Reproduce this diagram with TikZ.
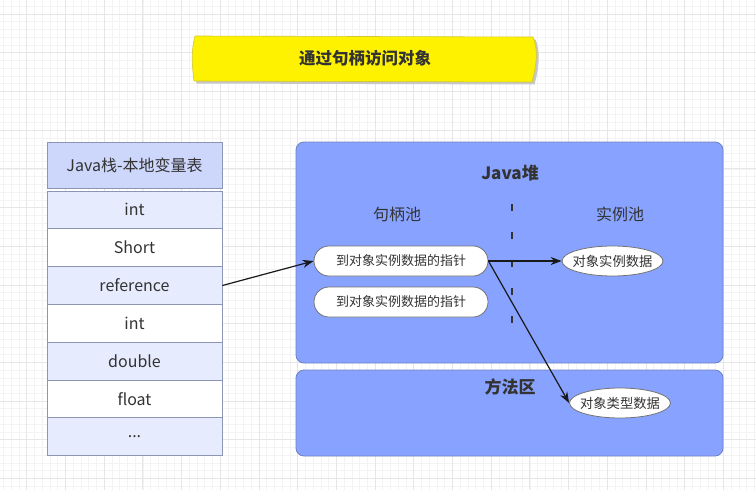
\documentclass[tikz,border=0pt]{standalone}
\usepackage{fontspec}
\setmainfont{Noto Sans CJK SC}
\usetikzlibrary{arrows.meta,shapes.geometric}
\definecolor{txt}{HTML}{333333}
\definecolor{heapfill}{HTML}{88A2FF}
\definecolor{heapdraw}{HTML}{6F82C4}
\definecolor{hdrfill}{HTML}{CDD6FB}
\definecolor{rowfill}{HTML}{E6EBFE}
\definecolor{rowdraw}{HTML}{8C96B4}
\definecolor{gridmaj}{HTML}{E6E6E6}
\definecolor{gridmin}{HTML}{F3F3F3}
\tikzset{
  cell/.style={draw=rowdraw, line width=0.8pt, minimum width=175pt, minimum height=37.8pt, inner sep=0pt, text=txt, font=\fontsize{16}{19}\selectfont},
  lav/.style={cell, fill=rowfill},
  wht/.style={cell, fill=white},
  hdr/.style={cell, fill=hdrfill, minimum height=46pt},
  region/.style={draw=heapdraw, line width=0.8pt, fill=heapfill, rounded corners=8pt, minimum width=427pt, inner sep=0pt},
  lbl/.style={text=txt, inner sep=0pt, font=\fontsize{16}{19}\selectfont},
  blbl/.style={text=txt, inner sep=0pt, font=\fontsize{16.5}{19}\selectfont\bfseries},
  pill/.style={draw=black!55, line width=0.8pt, fill=white, rounded corners=15pt, minimum width=174pt, minimum height=30pt, inner sep=0pt, text=txt, font=\fontsize{13}{15}\selectfont},
  oval/.style={ellipse, draw=black!55, line width=0.8pt, fill=white, minimum width=101pt, minimum height=30pt, inner xsep=-12pt, inner ysep=0pt, text=txt, font=\fontsize{13.3}{15}\selectfont},
  arr/.style={draw=black!90, line width=1.2pt, -{Stealth[length=11pt,width=8pt]}},
}
\begin{document}
\begin{tikzpicture}[x=1pt,y=-1pt]
\useasboundingbox (0,0) rectangle (756,490);
\fill[white] (0,0) rectangle (756,490);
\begin{scope}
\clip (0,0) rectangle (756,490);
\foreach \i in {0,...,100} {
  \draw[gridmin, line width=0.5pt] ({-12+\i*7.74},0) -- ({-12+\i*7.74},490);
  \draw[gridmin, line width=0.5pt] (0,{-24.7+\i*7.74}) -- (756,{-24.7+\i*7.74});
}
\foreach \i in {0,...,21} {
  \draw[gridmaj, line width=0.7pt] ({-12+\i*38.7},0) -- ({-12+\i*38.7},490);
  \draw[gridmaj, line width=0.7pt] (0,{-24.7+\i*38.7}) -- (756,{-24.7+\i*38.7});
}
\end{scope}
% title banner
\fill[black!22, shift={(2.5,2.5)}] (195,36) -- (533,37) .. controls (538,48) and (537,64) .. (532,82) -- (194,81) .. controls (192,66) and (191,50) .. (195,36) -- cycle;
\draw[fill=yellow, draw=yellow!80!black, line width=0.6pt] (195,36) -- (533,37) .. controls (538,48) and (537,64) .. (532,82) -- (194,81) .. controls (192,66) and (191,50) .. (195,36) -- cycle;
\node[blbl] (title) at (365,58) {通过句柄访问对象};
% stack table
\node[hdr] (hdr) at (134.5,165) {Java栈-本地变量表};
\node[lav] (r0) at (134.5,209.9) {int};
\node[wht] (r1) at (134.5,247.7) {Short};
\node[lav] (r2) at (134.5,285.5) {reference};
\node[wht] (r3) at (134.5,323.3) {int};
\node[lav] (r4) at (134.5,361.1) {double};
\node[wht] (r5) at (134.5,398.9) {float};
\node[lav] (r6) at (134.5,436.7) {...};
% heap
\node[region, minimum height=221pt] (heap) at (509.5,252.5) {};
\node[region, minimum height=86pt] (method) at (509.5,413) {};
\node[blbl, font=\fontsize{17}{20}\selectfont\bfseries] (heapt) at (510,173) {Java堆};
\node[lbl] (hp) at (397,214) {句柄池};
\node[lbl] (ip) at (620,214) {实例池};
\node[blbl, font=\fontsize{17}{20}\selectfont\bfseries] (mt) at (510,387) {方法区};
\coordinate (dtop) at (512,204);
\coordinate (dbot) at (512,326);
\draw[txt, line width=2pt, dash pattern=on 7pt off 21pt] (dtop) -- (dbot);
\node[pill] (p1) at (401,261) {到对象实例数据的指针};
\node[pill] (p2) at (401,302) {到对象实例数据的指针};
\node[oval] (e1) at (612.5,261) {对象实例数据};
\node[oval] (e2) at (620,403) {对象类型数据};
\draw[arr] (r2.east) -- (p1.west);
\draw[arr] (p1.east) -- (e1.west);
\draw[arr] (p1.east) -- (e2.west);
\end{tikzpicture}
\end{document}
